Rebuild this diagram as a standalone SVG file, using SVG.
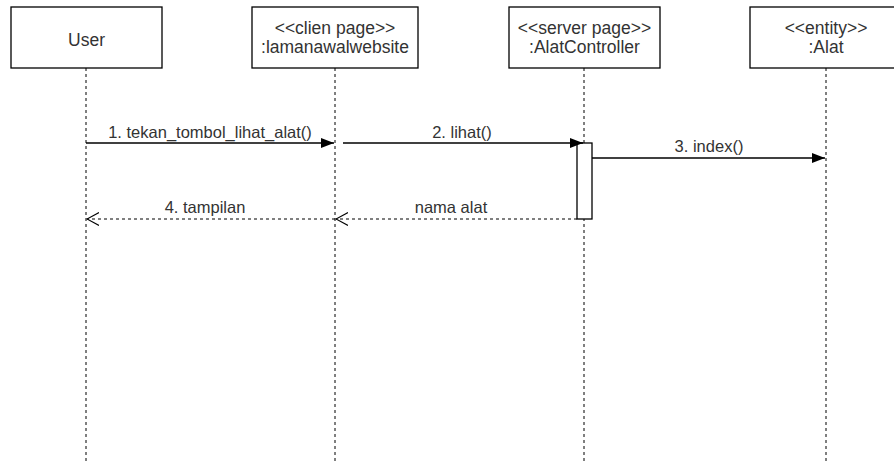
<svg xmlns="http://www.w3.org/2000/svg" width="894" height="462" viewBox="0 0 894 462">
  <style>
    .box { fill: #ffffff; stroke: #000000; stroke-width: 1.3; }
    .life { stroke: #000000; stroke-width: 1; stroke-dasharray: 3 3; fill: none; }
    .msg { stroke: #000000; stroke-width: 1.3; fill: none; }
    .ret { stroke: #000000; stroke-width: 1; stroke-dasharray: 3 3; fill: none; }
    text { font-family: "Liberation Sans", Arial, sans-serif; fill: #333333; text-anchor: middle; }
    .head { font-size: 17.5px; }
    .lbl { font-size: 16.5px; }
  </style>
  <defs>
    <!-- filled head for calls -->
    <marker id="block" viewBox="0 0 13 10" refX="13" refY="5" markerWidth="13" markerHeight="10" markerUnits="userSpaceOnUse" orient="auto">
      <path d="M0,0 L13,5 L0,10 Z" fill="#000000"/>
    </marker>
    <!-- open head for replies -->
    <marker id="open" viewBox="0 0 13 14" refX="12" refY="7" markerWidth="13" markerHeight="14" markerUnits="userSpaceOnUse" orient="auto">
      <path d="M0,0.5 L12,7 L0,13.5" fill="none" stroke="#000000" stroke-width="1.1"/>
    </marker>
  </defs>

  <!-- lifelines -->
  <g id="lifelines">
    <line class="life" x1="86" y1="68" x2="86" y2="462"/>
    <line class="life" x1="335" y1="68" x2="335" y2="462"/>
    <line class="life" x1="584" y1="68" x2="584" y2="462"/>
    <line class="life" x1="826" y1="68" x2="826" y2="462"/>
  </g>

  <g id="user">
    <rect class="box" x="11" y="7" width="151" height="61"/>
    <text class="head" x="86.5" y="46">User</text>
  </g>

  <g id="lamanawalwebsite">
    <rect class="box" x="252" y="7" width="166" height="61"/>
    <text class="head" x="335" y="34">&lt;&lt;clien page&gt;&gt;</text>
    <text class="head" x="335" y="53">:lamanawalwebsite</text>
  </g>

  <g id="alatcontroller">
    <rect class="box" x="509" y="7" width="151" height="61"/>
    <text class="head" x="584.5" y="34">&lt;&lt;server page&gt;&gt;</text>
    <text class="head" x="584.5" y="53">:AlatController</text>
  </g>

  <g id="alat">
    <rect class="box" x="750" y="7" width="152" height="61"/>
    <text class="head" x="826" y="34">&lt;&lt;entity&gt;&gt;</text>
    <text class="head" x="826" y="53">:Alat</text>
  </g>

  <g id="activation">
    <rect class="box" x="577" y="143" width="15" height="76"/>
  </g>

  <g id="connectors">
    <line class="msg" x1="86" y1="143" x2="334" y2="143" marker-end="url(#block)"/>
    <text class="lbl" x="210" y="138">1. tekan_tombol_lihat_alat()</text>

    <line class="msg" x1="343" y1="143" x2="583" y2="143" marker-end="url(#block)"/>
    <text class="lbl" x="462" y="138">2. lihat()</text>

    <line class="msg" x1="592" y1="158" x2="825" y2="158" marker-end="url(#block)"/>
    <text class="lbl" x="709" y="152">3. index()</text>

    <line class="ret" x1="577" y1="219" x2="336" y2="219" marker-end="url(#open)"/>
    <text class="lbl" x="451" y="213">nama alat</text>

    <line class="ret" x1="335" y1="219" x2="87" y2="219" marker-end="url(#open)"/>
    <text class="lbl" x="205" y="213">4. tampilan</text>
  </g>
</svg>
